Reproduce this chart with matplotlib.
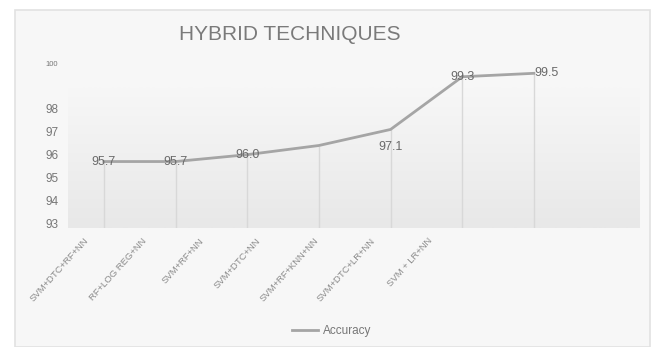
import matplotlib
matplotlib.use("Agg")
import matplotlib.pyplot as plt
import numpy as np
from matplotlib.patches import Rectangle

plt.rcParams['font.family'] = ['Liberation Sans', 'DejaVu Sans']

# data
techniques = ["SVM+DTC+RF+NN", "RF+LOG REG+NN", "SVM+RF+NN", "SVM+DTC+NN",
              "SVM+RF+KNN+NN", "SVM+DTC+LR+NN", "SVM + LR+NN"]
accuracy = [95.7, 95.7, 96.0, 96.4, 97.1, 99.4, 99.55]
shown = ["95.7", "95.7", "96.0", "", "97.1", "99.3", "99.5"]
yticks = [93, 94, 95, 96, 97, 98, 100]

fig = plt.figure(figsize=(6.57, 3.47), dpi=100)
fig.patch.set_facecolor("white")

# outer panel
panel = Rectangle((15/657, 0), 635/657, 1-10/347, transform=fig.transFigure,
                  facecolor="#f7f7f7", edgecolor="#e2e2e2", lw=1.2, zorder=-10)
fig.patches.append(panel)

ax = fig.add_axes([68/657, 1-228/347, 572/657, 165/347])
ax.set_facecolor("none")
ax.set_zorder(1)

x = np.arange(len(techniques))

# soft gradient background of the plot area (darker at the bottom)
grad = np.linspace(0, 1, 100).reshape(-1, 1)
cm = matplotlib.colors.LinearSegmentedColormap.from_list("g", ["#e8e8e8", "#f7f7f7"])
ax.imshow(grad, extent=[0, 1, 0, 0.85], transform=ax.transAxes, aspect="auto",
          cmap=cm, origin="lower", zorder=0)

ax.vlines(x, 92.8, accuracy, color="#d8d8d8", lw=1, zorder=1)
ax.plot(x, accuracy, color="#a5a5a5", lw=2.0, label="Accuracy", zorder=2)

for i in range(len(x)):
    if shown[i] == "":
        continue
    if i == 4:
        ax.text(x[i], accuracy[i] - 0.75, shown[i], ha="center", va="center",
                fontsize=9, color="#6a6a6a", zorder=3)
    elif i == 6:
        ax.text(x[i] + 0.18, accuracy[i], shown[i], ha="center", va="center",
                fontsize=9, color="#6a6a6a", zorder=3)
    else:
        ax.text(x[i], accuracy[i], shown[i], ha="center", va="center",
                fontsize=9, color="#6a6a6a", zorder=3)

ax.set_xlim(-0.5, 7.48)
ax.set_ylim(92.8, 100)

ax.set_yticks(yticks)
ax.set_yticklabels([str(t) for t in yticks])
for lab in ax.get_yticklabels():
    lab.set_color("#777777")
    lab.set_fontsize(8.5)
ax.get_yticklabels()[-1].set_fontsize(5.5)
ax.tick_params(axis="y", length=0, pad=7)

ax.set_xticks(x)
ax.set_xticklabels([])
ax.tick_params(axis="x", length=0)

# category labels sit slightly left of the points in the source image
for i in range(len(techniques)):
    fx = (84 + 57.3 * i - 68) / 572
    ax.text(fx, -0.05, techniques[i], transform=ax.transAxes, rotation=48,
            ha="right", va="top", rotation_mode="anchor", fontsize=6.8, color="#8a8a8a")

for s in ax.spines.values():
    s.set_visible(False)

fig.text(290/657, 1-35/347, "HYBRID TECHNIQUES", ha="center", va="center",
         fontsize=15, color="#7a7a7a")

fig.legend(loc="center", bbox_to_anchor=(332/657, 1-331/347), frameon=False,
           fontsize=8.5, labelcolor="#777777", handlelength=2.2, handletextpad=0.4)

fig.savefig("out.png", dpi=100)
